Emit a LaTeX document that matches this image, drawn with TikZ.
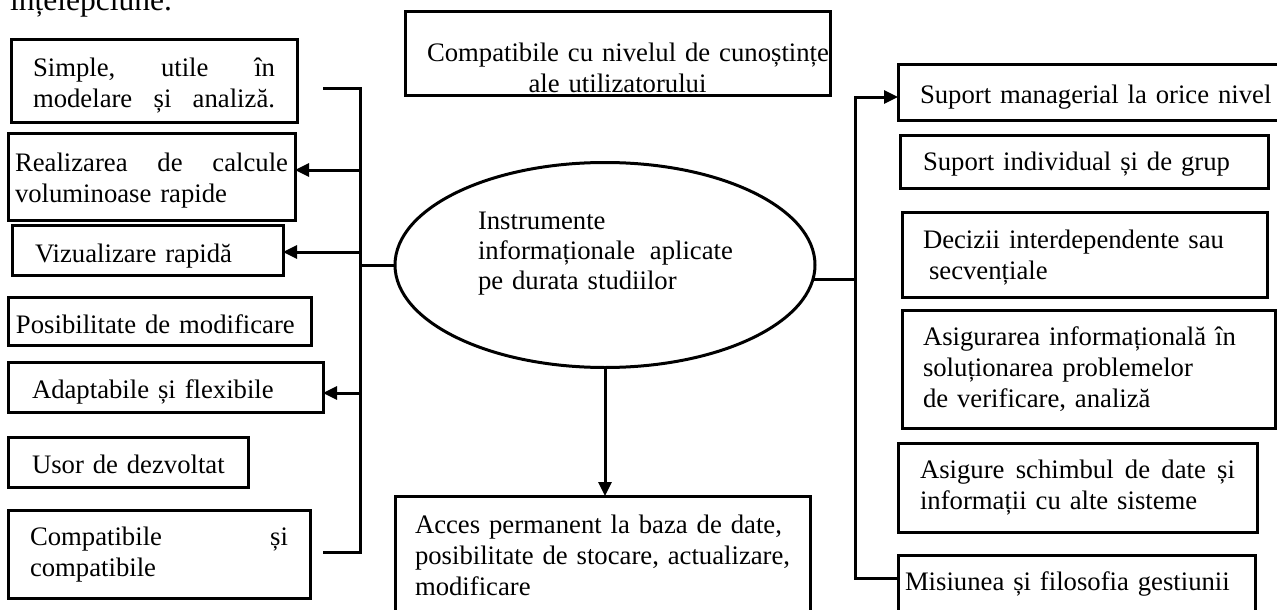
\documentclass[tikz,border=0pt]{standalone}
\usepackage{fontspec}
\setmainfont{Liberation Serif}
\usetikzlibrary{arrows.meta,shapes.geometric}
\setlength{\parindent}{0pt}
\newcommand{\jl}[1]{\hbox to\hsize{#1}}
\tikzset{
  bxs/.style={draw, line width=3pt, rectangle, inner ysep=0pt, outer sep=0pt,
    align=left, anchor=north west, font=\fontsize{26.7}{31}\selectfont},
  conn/.style={line width=3pt},
  arr/.style={conn, -{Triangle[length=14pt,width=13pt]}}
}
\begin{document}
\begin{tikzpicture}[x=1pt,y=-1pt]
\useasboundingbox (0,0) rectangle (1277,610);

% cropped heading text
\node[anchor=base west, inner sep=0pt, font=\fontsize{31.5}{36}\selectfont] (hd) at (10,11) {înțelepciune.};

% left boxes
\node[bxs, inner xsep=22pt, text width=242pt, text height=37pt, text depth=45pt] (s1) at (11,40)
  {\jl{Simple,\hfill utile\hfill în}\\ \jl{modelare\hfill și\hfill analiză.}};
\node[bxs, inner xsep=7pt, text width=273pt, text height=38pt, text depth=49pt] (s2) at (8,133)
  {\jl{Realizarea\hfill de\hfill calcule}\\ \mbox{voluminoase rapide}};
\node[bxs, inner xsep=23pt, text width=225pt, text height=37pt, text depth=13pt] (s3) at (12,225)
  {\mbox{Vizualizare rapidă}};
\node[bxs, inner xsep=8pt, text width=287pt, text height=36pt, text depth=12pt] (s4) at (8,297)
  {\mbox{Posibilitate de modificare}};
\node[bxs, inner xsep=24pt, text width=267pt, text height=36pt, text depth=14pt] (s5) at (8,362)
  {\mbox{Adaptabile și flexibile}};
\node[bxs, inner xsep=24pt, text width=192pt, text height=36pt, text depth=14pt] (s6) at (8,437)
  {\mbox{Usor de dezvoltat}};
\node[bxs, inner xsep=22pt, text width=258pt, text height=35pt, text depth=53pt] (s7) at (8,510)
  {\jl{Compatibile\hfill și}\\ \mbox{compatibile}};

% top box
\node[bxs, align=center, inner xsep=8pt, text width=409pt, text height=50pt, text depth=33pt] (t0) at (405,12)
  {\mbox{\hspace*{14pt}Compatibile cu nivelul de cunoștințe}\\ \mbox{ale utilizatorului}};

% central ellipse
\node[draw, ellipse, line width=3pt, minimum width=420pt, minimum height=205pt, inner sep=0pt,
  text width=254pt, align=left, text height=20pt, text depth=92pt,
  font=\fontsize{26.7}{30}\selectfont] (e) at (605,265)
  {\mbox{Instrumente}\\ \mbox{informaționale\hspace{0.55em}aplicate}\\ \mbox{pe durata studiilor}};

% bottom box
\node[bxs, inner xsep=20pt, text width=375pt, text height=37pt, text depth=82pt] (acc) at (395,496)
  {\mbox{Acces permanent la baza de date,}\\ \mbox{posibilitate de stocare, actualizare,}\\ \mbox{modificare}};

% right boxes
\node[bxs, inner xsep=22pt, text width=340pt, text height=38pt, text depth=17pt] (r1) at (898,65)
  {\mbox{Suport managerial la orice nivel}};
\node[bxs, inner xsep=23pt, text width=322pt, text height=35pt, text depth=18pt] (r2) at (900,135)
  {\mbox{Suport individual și de grup}};
\node[bxs, inner xsep=21pt, text width=323pt, text height=36pt, text depth=49pt] (r3) at (902,212)
  {\mbox{Decizii interdependente sau}\\ \mbox{\hspace*{6pt}secvențiale}};
\node[bxs, inner xsep=21pt, text width=331pt, text height=35pt, text depth=83pt] (r4) at (902,310)
  {\mbox{Asigurarea informațională în}\\ \mbox{soluționarea problemelor}\\ \mbox{de verificare, analiză}};
\node[bxs, inner xsep=22pt, text width=315pt, text height=35pt, text depth=54pt] (r5) at (898,443)
  {\jl{Asigure\hfill schimbul\hfill de\hfill date\hfill și}\\ \mbox{informații cu alte sisteme}};
\node[bxs, inner xsep=7pt, text width=343pt, text height=35pt, text depth=25pt] (r6) at (898,555)
  {\mbox{Misiunea și filosofia gestiunii}};

% left bus
\coordinate (lt) at (323,88);
\coordinate (ltc) at (360,88);
\coordinate (lbc) at (360,552);
\coordinate (lb) at (323,552);
\draw[conn] (lt) -- (ltc) -- (lbc) -- (lb);
\coordinate (a2) at (360,170);
\coordinate (a3) at (360,252);
\coordinate (a5) at (360,393);
\draw[arr] (a2) -- (a2 -| s2.east);
\draw[arr] (a3) -- (a3 -| s3.east);
\draw[arr] (a5) -- (a5 -| s5.east);
\draw[conn] (e.west) -- (e.west -| ltc);

% right bus
\coordinate (rt) at (855,97);
\coordinate (rb) at (855,578);
\draw[arr] (rb -| r6.west) -- (rb) -- (rt) -- (rt -| r1.west);
\draw[conn] (e.-4) -- (e.-4 -| rt);

% down arrow
\draw[arr] (e.south) -- (e.south |- acc.north);
\end{tikzpicture}
\end{document}
